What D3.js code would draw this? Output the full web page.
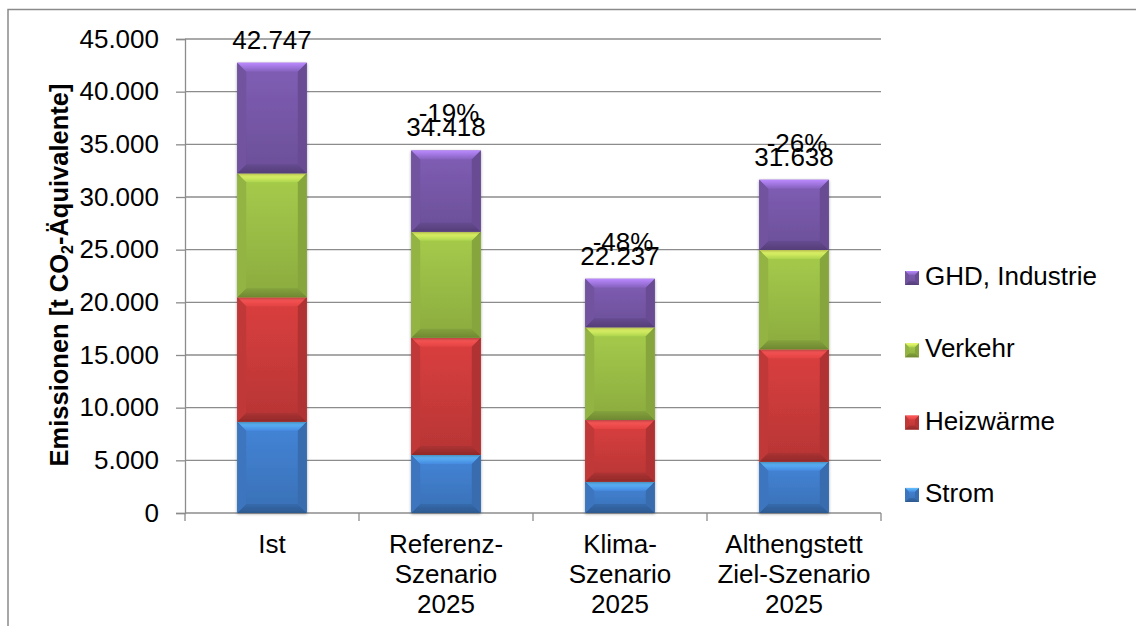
<!DOCTYPE html>
<html>
<head>
<meta charset="utf-8">
<script src="https://cdn.jsdelivr.net/npm/d3@7"></script>
<style>
  html, body { margin: 0; padding: 0; background: #fff; }
  svg { display: block; font-family: "Liberation Sans", Arial, sans-serif; }
</style>
</head>
<body>
<svg id="chart" width="1136" height="626"></svg>
<script>
// ---- data ----
const categories = ["Ist", "Referenz-\nSzenario\n2025", "Klima-\nSzenario\n2025", "Althengstett\nZiel-Szenario\n2025"];
const seriesNames = ["Strom", "Heizwärme", "Verkehr", "GHD, Industrie"];
const strom      = [8670, 5510, 2970, 4870];
const heizwaerme = [11810, 11130, 5860, 10670];
const verkehr    = [11770, 10060, 8800, 9430];
const ghd        = [10497, 7718, 4607, 6668];
const totals     = [42747, 34418, 22237, 31638];
const changeLabels = ["", "-19%", "-48%", "-26%"];
const yTicks = [0, 5000, 10000, 15000, 20000, 25000, 30000, 35000, 40000, 45000];
const seriesColors = ["#3e7ac6", "#c83a3a", "#98bb45", "#7556a6"];

const seriesValues = [strom, heizwaerme, verkehr, ghd];

const svg = d3.select("#chart");
const de = d3.formatLocale({decimal: ",", thousands: ".", grouping: [3], currency: ["", "€"]});
const fmt = de.format(",.0f");

const plot = {left: 185, right: 881, top: 39, bottom: 513};
const x = d3.scaleBand().domain(d3.range(categories.length)).range([plot.left, plot.right]).padding(0);
const y = d3.scaleLinear().domain([0, 45000]).range([plot.bottom, plot.top]);
const barW = x.bandwidth() * 0.4;

// defs: gradients & shadow
const defs = svg.append("defs");
const flt = defs.append("filter").attr("id", "shadow").attr("x", "-20%").attr("y", "-20%").attr("width", "140%").attr("height", "140%");
flt.append("feDropShadow").attr("dx", 0).attr("dy", 1).attr("stdDeviation", 1.8).attr("flood-color", "#000").attr("flood-opacity", 0.35);

seriesColors.forEach((c, i) => {
  const base = d3.color(c);
  const g = defs.append("linearGradient").attr("id", "face" + i).attr("x1", 0).attr("y1", 0).attr("x2", 0).attr("y2", 1);
  g.append("stop").attr("offset", "0%").attr("stop-color", base.brighter(0.25));
  g.append("stop").attr("offset", "100%").attr("stop-color", base.darker(0.25));
  const t = defs.append("linearGradient").attr("id", "top" + i).attr("x1", 0).attr("y1", 0).attr("x2", 0).attr("y2", 1);
  t.append("stop").attr("offset", "0%").attr("stop-color", base.brighter(1.3));
  t.append("stop").attr("offset", "100%").attr("stop-color", base.brighter(0.35));
  const b = defs.append("linearGradient").attr("id", "bot" + i).attr("x1", 0).attr("y1", 0).attr("x2", 0).attr("y2", 1);
  b.append("stop").attr("offset", "0%").attr("stop-color", base.darker(0.4));
  b.append("stop").attr("offset", "100%").attr("stop-color", base.darker(0.9));
});

function bevelRect(g, x0, y0, w, h, i, bv) {
  const b = Math.min(bv, h / 2, w / 2);
  const base = d3.color(seriesColors[i]);
  g.append("rect").attr("x", x0).attr("y", y0).attr("width", w).attr("height", h).attr("fill", `url(#face${i})`);
  const poly = (pts, fill) => g.append("polygon").attr("points", pts.map(p => p.join(",")).join(" ")).attr("fill", fill);
  poly([[x0, y0], [x0 + w, y0], [x0 + w - b, y0 + b], [x0 + b, y0 + b]], `url(#top${i})`);
  poly([[x0, y0 + h], [x0 + w, y0 + h], [x0 + w - b, y0 + h - b], [x0 + b, y0 + h - b]], `url(#bot${i})`);
  poly([[x0, y0], [x0 + b, y0 + b], [x0 + b, y0 + h - b], [x0, y0 + h]], base.darker(0.1).toString());
  poly([[x0 + w, y0], [x0 + w - b, y0 + b], [x0 + w - b, y0 + h - b], [x0 + w, y0 + h]], base.darker(0.35).toString());
}

// outer border
svg.append("path").attr("d", "M8,626 V9.5 H1136").attr("fill", "none").attr("stroke", "#8a8a8a").attr("stroke-width", 1.5);

// gridlines
svg.append("g").selectAll("line").data(yTicks.filter(v => v > 0)).join("line")
  .attr("x1", plot.left).attr("x2", plot.right)
  .attr("y1", d => y(d)).attr("y2", d => y(d))
  .attr("stroke", "#8c8c8c").attr("stroke-width", 1.3);

// y axis
const yAxis = svg.append("g").attr("transform", `translate(${plot.left},0)`)
  .call(d3.axisLeft(y).tickValues(yTicks).tickFormat(fmt).tickSize(9).tickPadding(17));
yAxis.select(".domain").attr("stroke", "#8c8c8c").attr("stroke-width", 1.3);
yAxis.selectAll(".tick line").attr("stroke", "#8c8c8c").attr("stroke-width", 1.3);
yAxis.selectAll(".tick text").attr("font-size", "26px").attr("fill", "#000").attr("font-family", "Liberation Sans, Arial, sans-serif");

// x axis
const xAxisG = svg.append("g").attr("transform", `translate(0,${plot.bottom})`);
xAxisG.append("line").attr("x1", plot.left).attr("x2", plot.right).attr("stroke", "#8c8c8c").attr("stroke-width", 1.3);
const boundaries = d3.range(categories.length + 1).map(i => plot.left + i * x.step());
xAxisG.selectAll("line.tk").data(boundaries).join("line").attr("class", "tk")
  .attr("x1", d => d).attr("x2", d => d).attr("y1", 0).attr("y2", 8)
  .attr("stroke", "#8c8c8c").attr("stroke-width", 1.3);
const xl = svg.append("g").selectAll("text").data(categories).join("text")
  .attr("x", (d, i) => x(i) + x.bandwidth() / 2)
  .attr("y", 553)
  .attr("text-anchor", "middle").attr("font-size", "26px").attr("fill", "#000");
xl.each(function(d) {
  const t = d3.select(this);
  d.split("\n").forEach((line, k) => {
    t.append("tspan").attr("x", t.attr("x")).attr("dy", k === 0 ? 0 : 30).text(line);
  });
});

// bars
const stack = d3.stack().keys(d3.range(seriesNames.length)).value((d, k) => seriesValues[k][d]);
const stacked = stack(d3.range(categories.length));
const barsG = svg.append("g");
stacked.forEach((layer, si) => {
  layer.forEach((seg, ci) => {
    const g = barsG.append("g").attr("filter", "url(#shadow)");
    const x0 = x(ci) + (x.bandwidth() - barW) / 2;
    bevelRect(g, x0, y(seg[1]), barW, y(seg[0]) - y(seg[1]), si, 9);
  });
});

// total labels
svg.append("g").selectAll("text").data(totals).join("text")
  .attr("x", (d, i) => x(i) + x.bandwidth() / 2)
  .attr("y", d => y(d) - 14)
  .attr("text-anchor", "middle").attr("font-size", "26px").attr("fill", "#000")
  .text(d => fmt(d));
svg.append("g").selectAll("text").data(changeLabels).join("text")
  .attr("x", (d, i) => x(i) + x.bandwidth() / 2 + 3)
  .attr("y", (d, i) => y(totals[i]) - 28)
  .attr("text-anchor", "middle").attr("font-size", "26px").attr("fill", "#000")
  .text(d => d);

// y title
const yt = svg.append("text")
  .attr("transform", "translate(68,275) rotate(-90)")
  .attr("text-anchor", "middle").attr("font-size", "25.5px").attr("font-weight", "bold").attr("fill", "#000");
yt.append("tspan").text("Emissionen [t CO");
yt.append("tspan").attr("font-size", "16px").attr("dy", 5).text("2");
yt.append("tspan").attr("dy", -5).text("-Äquivalente]");

// legend
const legendOrder = [3, 2, 1, 0];
const lg = svg.append("g");
legendOrder.forEach((si, k) => {
  const by = 285 + k * 72.3;
  const g = lg.append("g");
  bevelRect(g, 905, by - 14, 14, 14, si, 4);
  lg.append("text").attr("x", 925).attr("y", by).attr("font-size", "26px").attr("fill", "#000").text(seriesNames[si]);
});
</script>
</body>
</html>
